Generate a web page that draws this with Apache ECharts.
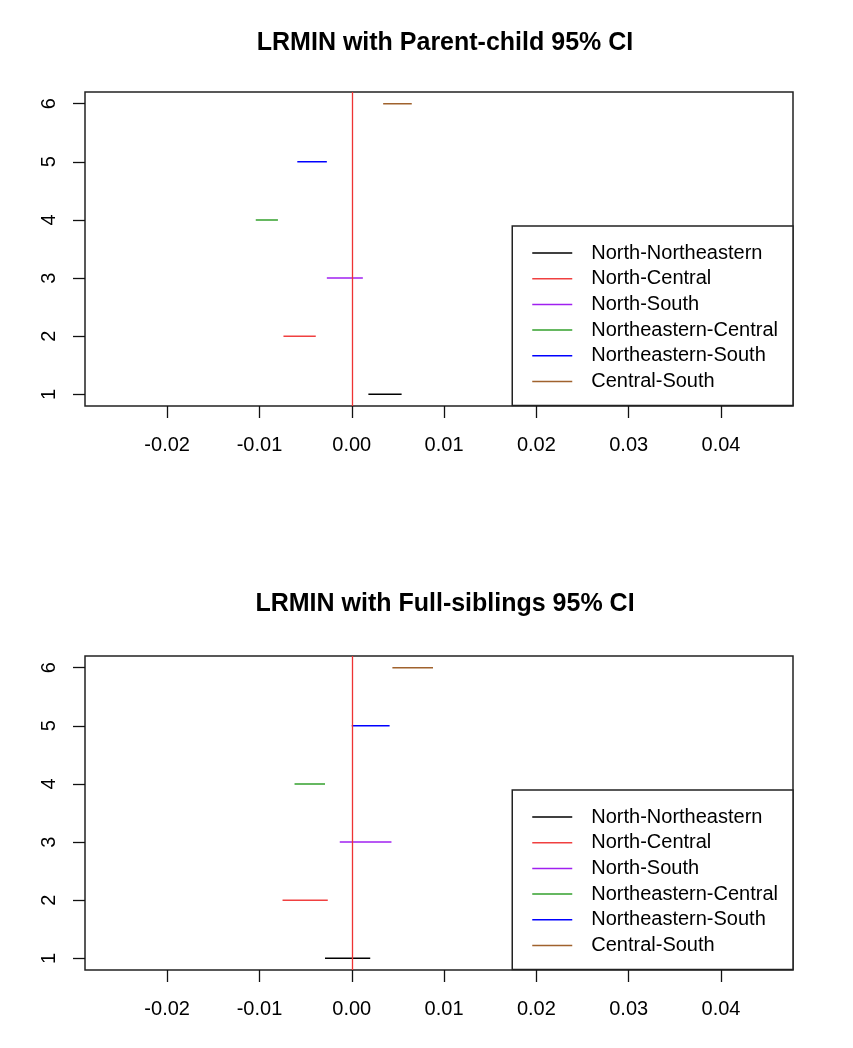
<!DOCTYPE html>
<html>
<head>
<meta charset="utf-8">
<script src="https://cdn.jsdelivr.net/npm/echarts@6/dist/echarts.min.js"></script>
<style>
  html, body { margin: 0; padding: 0; background: #fff; }
  #chart { width: 853px; height: 1048px; }
</style>
</head>
<body>
<div id="chart"></div>
<script>
// 两组比较的名称（图例顺序，对应 y = 1..6）
const pairNames = ['North-Northeastern', 'North-Central', 'North-South',
  'Northeastern-Central', 'Northeastern-South', 'Central-South'];
const pairColors = ['#000000', '#F04040', '#A020F0', '#33A02C', '#0000FF', '#A0622D'];
const rowIndex = [1, 2, 3, 4, 5, 6];

// Parent-child 95% CI 下限/上限
const pcLower = [0.0018, -0.0074, -0.0027, -0.0104, -0.0059, 0.0034];
const pcUpper = [0.0054, -0.0039, 0.0012, -0.0080, -0.0027, 0.0065];
// Full-siblings 95% CI 下限/上限
const fsLower = [-0.0029, -0.0075, -0.0013, -0.0062, 0.0000, 0.0044];
const fsUpper = [0.0020, -0.0026, 0.0043, -0.0029, 0.0041, 0.0088];

const xTicks = [-0.02, -0.01, 0.00, 0.01, 0.02, 0.03, 0.04];
const yTicks = [1, 2, 3, 4, 5, 6];
const titles = ['LRMIN with Parent-child 95% CI', 'LRMIN with Full-siblings 95% CI'];

const font = '"Liberation Sans", Arial, sans-serif';
const gridTops = [92, 656];
const plotH = 314;

const chart = echarts.init(document.getElementById('chart'));

// 每个面板一个坐标系
const grids = gridTops.map(t => ({
  left: 85, top: t, width: 708, height: plotH,
  show: true, borderColor: '#222', borderWidth: 1.5, backgroundColor: 'transparent'
}));

const xAxes = gridTops.map((t, i) => ({
  type: 'value', gridIndex: i, min: -0.0289, max: 0.0478,
  axisLine: { show: false, onZero: false },
  splitLine: { show: false },
  axisTick: { show: true, inside: false, length: 12, customValues: xTicks,
    lineStyle: { color: '#111', width: 1.3 } },
  axisLabel: { customValues: xTicks, margin: 29, fontSize: 20, fontFamily: font, color: '#000',
    formatter: v => v.toFixed(2) }
}));

const yAxes = gridTops.map((t, i) => ({
  type: 'value', gridIndex: i, min: 0.8, max: 6.2,
  axisLine: { show: false, onZero: false },
  splitLine: { show: false },
  axisTick: { show: true, inside: false, length: 12, customValues: yTicks,
    lineStyle: { color: '#111', width: 1.3 } },
  axisLabel: { customValues: yTicks, rotate: 90, margin: 26, fontSize: 20, fontFamily: font, color: '#000' }
}));

const series = [];
[[pcLower, pcUpper], [fsLower, fsUpper]].forEach(([lo, hi], g) => {
  pairNames.forEach((name, k) => {
    const s = {
      name: name,
      type: 'line',
      xAxisIndex: g, yAxisIndex: g,
      symbol: 'none',
      silent: true,
      color: pairColors[k],
      lineStyle: { color: pairColors[k], width: 1.5 },
      data: [[lo[k], rowIndex[k]], [hi[k], rowIndex[k]]]
    };
    // 零线（abline v = 0）
    if (k === 0) {
      s.markLine = {
        silent: true, symbol: 'none', animation: false,
        label: { show: false },
        lineStyle: { color: '#EE3333', width: 1.3, type: 'solid' },
        data: [{ xAxis: 0 }]
      };
    }
    series.push(s);
  });
});

const legends = gridTops.map(t => ({
  orient: 'vertical',
  right: 60, top: t + 134,
  padding: [16, 15, 13, 20],
  itemWidth: 40, itemHeight: 1.5, itemGap: 3.7,
  icon: 'rect',
  selectedMode: false,
  backgroundColor: '#fff',
  borderColor: '#222', borderWidth: 1.5, borderRadius: 0,
  textStyle: { fontSize: 20, lineHeight: 22, fontFamily: font, color: '#000', padding: [0, 0, 0, 14] },
  data: pairNames
}));

const titleTops = [26, 587];
const option = {
  animation: false,
  backgroundColor: '#fff',
  title: titles.map((txt, i) => ({
    text: txt, left: 440, top: titleTops[i], textAlign: 'center',
    textStyle: { fontSize: 25, fontWeight: 'bold', fontFamily: font, color: '#000' }
  })),
  legend: legends,
  grid: grids,
  xAxis: xAxes,
  yAxis: yAxes,
  series: series
};

chart.setOption(option);
</script>
</body>
</html>
